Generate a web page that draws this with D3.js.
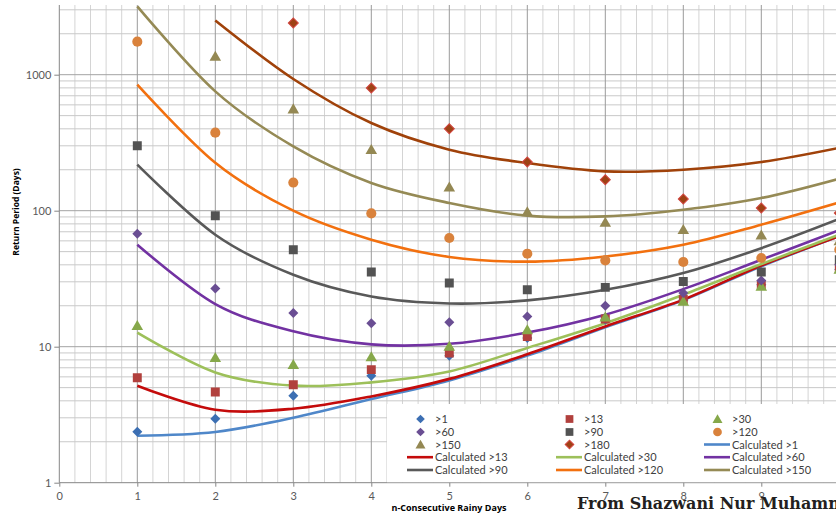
<!DOCTYPE html>
<html>
<head>
<meta charset="utf-8">
<script src="https://cdn.jsdelivr.net/npm/d3@7"></script>
<style>
  body { margin: 0; background: #fff; }
  svg { display: block; }
</style>
</head>
<body>
<svg id="chart" width="836" height="516"></svg>
<script>
// n-consecutive rainy days (x axis)
const nDays = [1, 2, 3, 4, 5, 6, 7, 8, 9, 10];

// Observed return periods (days) for each rainfall threshold
const obs1   = [2.37, 2.95, 4.36, 6.12, 8.59, 11.6, 15.8, 22.0, 28.6, 37];
const obs13  = [5.92, 4.64, 5.25, 6.78, 8.99, 11.9, 16.0, 22.2, 28.6, 37.9];
const obs30  = [14.3, 8.3, 7.37, 8.4, 10.05, 13.3, 16.5, 21.5, 27.8, 37];
const obs60  = [67.8, 26.8, 17.7, 14.9, 15.1, 16.7, 20.0, 24.8, 30.7, 40];
const obs90  = [300, 91.7, 51.7, 35.4, 29.4, 26.2, 27.3, 30.2, 35.4, 43.6];
const obs120 = [1750, 375, 161, 95.5, 63, 48.3, 43.1, 42, 44.9, 51.7];
const obs150 = [null, 1364, 559, 281, 149, 98, 82, 72.5, 66, 60];
const obs180 = [null, null, 2399, 798, 401, 228, 169, 122, 104.7, 96];

// Calculated (fitted) return periods at the same n
const calc1   = [2.215, 2.36, 3.0, 4.12, 5.65, 8.6, 13.9, 22.0, 39, 65];
const calc13  = [5.17, 3.44, 3.5, 4.31, 5.8, 8.8, 14.1, 22.2, 39.5, 65];
const calc30  = [12.7, 6.47, 5.17, 5.47, 6.58, 9.8, 14.9, 24.1, 40.5, 66.6];
const calc60  = [56.2, 20.6, 12.97, 10.4, 10.5, 12.7, 17.2, 26.5, 43.6, 72];
const calc90  = [218, 66.6, 33.8, 23.4, 20.8, 21.9, 26.2, 34.8, 53, 87];
const calc120 = [844, 225, 100, 61.2, 45.7, 42.2, 46.1, 56.2, 78.9, 115];
const calc150 = [3178, 754, 297, 160, 114, 92, 90.8, 101.7, 124, 172];
const calc180 = [null, 2507, 930, 441, 281, 224, 194.6, 200, 228, 290];

// Axis ticks
const xTicks = [0, 1, 2, 3, 4, 5, 6, 7, 8, 9];
const yTicks = [1, 10, 100, 1000];

const observed = [
  { name: ">1",   values: obs1,   shape: "diamond",  fill: "#3c6fb3", stroke: "none" },
  { name: ">13",  values: obs13,  shape: "square",   fill: "#b1403d", stroke: "none" },
  { name: ">30",  values: obs30,  shape: "triangle", fill: "#86a84a", stroke: "none" },
  { name: ">60",  values: obs60,  shape: "diamond",  fill: "#6a4e93", stroke: "none" },
  { name: ">90",  values: obs90,  shape: "square",   fill: "#535353", stroke: "none" },
  { name: ">120", values: obs120, shape: "circle",   fill: "#d9823c", stroke: "none" },
  { name: ">150", values: obs150, shape: "triangle", fill: "#948853", stroke: "none" },
  { name: ">180", values: obs180, shape: "diamond",  fill: "#9e4215", stroke: "#d2453f" }
];

const calculated = [
  { name: "Calculated >1",   values: calc1,   color: "#4f87c9" },
  { name: "Calculated >13",  values: calc13,  color: "#c40b0b" },
  { name: "Calculated >30",  values: calc30,  color: "#9dc05a" },
  { name: "Calculated >60",  values: calc60,  color: "#7232a2" },
  { name: "Calculated >90",  values: calc90,  color: "#595959" },
  { name: "Calculated >120", values: calc120, color: "#f2700f" },
  { name: "Calculated >150", values: calc150, color: "#958a55" },
  { name: "Calculated >180", values: calc180, color: "#a0420a" }
];

const svg = d3.select("#chart");
const W = 836, H = 516;
const plotLeft = 59.3, plotBottom = 482.7, plotTop = 5;

const x = d3.scaleLinear().domain([0, 10]).range([plotLeft, plotLeft + 780]);
const y = d3.scaleLog().domain([1, 10000]).range([plotBottom, plotBottom - 4 * 136]);

svg.append("defs").append("clipPath").attr("id", "plot")
  .append("rect").attr("x", plotLeft).attr("y", plotTop)
  .attr("width", W - plotLeft).attr("height", plotBottom - plotTop);

// grid
const grid = svg.append("g").attr("clip-path", "url(#plot)");
const minorX = d3.range(0, 10.001, 0.2).filter(v => Math.abs(v - Math.round(v)) > 1e-6);
grid.selectAll(".vminor").data(minorX).join("line")
  .attr("x1", d => x(d)).attr("x2", d => x(d))
  .attr("y1", plotTop).attr("y2", plotBottom)
  .attr("stroke", "#d4d4d4").attr("stroke-width", 1);

const minorY = [];
[1, 10, 100, 1000].forEach(dec => { for (let k = 2; k <= 9; k++) minorY.push(dec * k); });
grid.selectAll(".hminor").data(minorY).join("line")
  .attr("x1", plotLeft).attr("x2", W)
  .attr("y1", d => y(d)).attr("y2", d => y(d))
  .attr("stroke", "#c9c9c9").attr("stroke-width", 1);

grid.selectAll(".hmajor").data([10, 100, 1000]).join("line")
  .attr("x1", plotLeft).attr("x2", W)
  .attr("y1", d => y(d)).attr("y2", d => y(d))
  .attr("stroke", "#a3a3a3").attr("stroke-width", 1);

grid.selectAll(".vmajor").data(xTicks.filter(d => d > 0)).join("line")
  .attr("x1", d => x(d)).attr("x2", d => x(d))
  .attr("y1", plotTop).attr("y2", plotBottom)
  .attr("stroke", "#9a9a9a").attr("stroke-width", 1);

// axes
const xAxis = svg.append("g").attr("transform", `translate(0,${plotBottom})`)
  .call(d3.axisBottom(x).tickValues(xTicks).tickSize(4).tickPadding(6).tickFormat(d3.format("d")));
const yAxis = svg.append("g").attr("transform", `translate(${plotLeft},0)`)
  .call(d3.axisLeft(y).tickValues(yTicks).tickSize(5).tickPadding(3).tickFormat(d3.format("d")));
yAxis.select(".domain").attr("d", `M0,${plotTop}V${plotBottom}`);
xAxis.select(".domain").attr("d", `M${plotLeft},0H${W}`);
[xAxis, yAxis].forEach(a => {
  a.selectAll(".domain, .tick line").attr("stroke", "#868686");
  a.selectAll("text").attr("fill", "#595959")
    .style("font-family", "Lato, 'Open Sans', sans-serif").style("font-size", "11px");
});

// symbols
function symbolPath(shape, scale) {
  const s = scale || 1;
  if (shape === "diamond") return d3.symbol(d3.symbolSquare, 50 * s)();
  if (shape === "square") return d3.symbol(d3.symbolSquare, 80 * s)();
  if (shape === "triangle") return d3.symbol(d3.symbolTriangle, 58 * s)();
  return d3.symbol(d3.symbolCircle, 80 * s)();
}
function symbolTransform(shape, px, py) {
  return shape === "diamond" ? `translate(${px},${py}) rotate(45)` :
         shape === "triangle" ? `translate(${px},${py + 1})` : `translate(${px},${py})`;
}

const plot = svg.append("g").attr("clip-path", "url(#plot)");

// calculated curves, smoothed through the per-n values
const line = d3.line()
  .x(d => x(d.n)).y(d => y(d.v))
  .curve(d3.curveCatmullRom.alpha(0));
calculated.forEach(s => {
  const pts = nDays.map((n, i) => ({ n, v: s.values[i] })).filter(d => d.v != null);
  plot.append("path").datum(pts)
    .attr("d", line).attr("fill", "none")
    .attr("stroke", s.color).attr("stroke-width", 2.6)
    .attr("stroke-linecap", "butt");
});

// observed markers
observed.forEach(s => {
  const pts = nDays.map((n, i) => ({ n, v: s.values[i] })).filter(d => d.v != null);
  plot.append("g").selectAll("path").data(pts).join("path")
    .attr("d", symbolPath(s.shape))
    .attr("transform", d => symbolTransform(s.shape, x(d.n), y(d.v)))
    .attr("fill", s.fill)
    .attr("stroke", s.stroke).attr("stroke-width", s.stroke === "none" ? 0 : 1);
});

// legend
const legend = svg.append("g");
legend.append("rect").attr("x", 387).attr("y", 404).attr("width", W - 387).attr("height", plotBottom - 404 - 0.5)
  .attr("fill", "#fff");
const legendItems = [
  ...observed.map(s => ({ type: "marker", ...s })),
  ...calculated.slice(0, 7).map(s => ({ type: "line", ...s }))
];
const colText = [435, 584, 732];
const rowY = [419, 432, 444.5, 457.2, 470];
legendItems.forEach((it, i) => {
  const col = i % 3, row = Math.floor(i / 3);
  const tx = colText[col], ty = rowY[row];
  if (it.type === "marker") {
    legend.append("path").attr("d", symbolPath(it.shape, 0.75))
      .attr("transform", symbolTransform(it.shape, tx - 14.5, ty))
      .attr("fill", it.fill).attr("stroke", it.stroke).attr("stroke-width", it.stroke === "none" ? 0 : 1);
  } else {
    legend.append("line").attr("x1", tx - 28).attr("x2", tx - 2)
      .attr("y1", ty).attr("y2", ty)
      .attr("stroke", it.color).attr("stroke-width", 2.6);
  }
  legend.append("text").attr("x", tx).attr("y", ty + 4)
    .attr("fill", "#404040")
    .style("font-family", "Lato, 'Open Sans', sans-serif").style("font-size", "11px")
    .text(it.name);
});

// axis titles
svg.append("text").attr("x", 449).attr("y", 511).attr("text-anchor", "middle")
  .attr("fill", "#000")
  .style("font-family", "'Open Sans', sans-serif").style("font-weight", "bold").style("font-size", "9px")
  .text("n-Consecutive Rainy Days");
svg.append("text").attr("transform", "translate(19,212) rotate(-90)").attr("text-anchor", "middle")
  .attr("fill", "#000")
  .style("font-family", "'Open Sans', sans-serif").style("font-weight", "bold").style("font-size", "8.5px")
  .text("Return Period (Days)");

// source credit
svg.append("text").attr("x", 577).attr("y", 509)
  .attr("fill", "#231f20")
  .style("font-family", "'DejaVu Serif', 'Liberation Serif', serif").style("font-weight", "bold").style("font-size", "16px")
  .text("From Shazwani Nur Muhammi");
</script>
</body>
</html>
